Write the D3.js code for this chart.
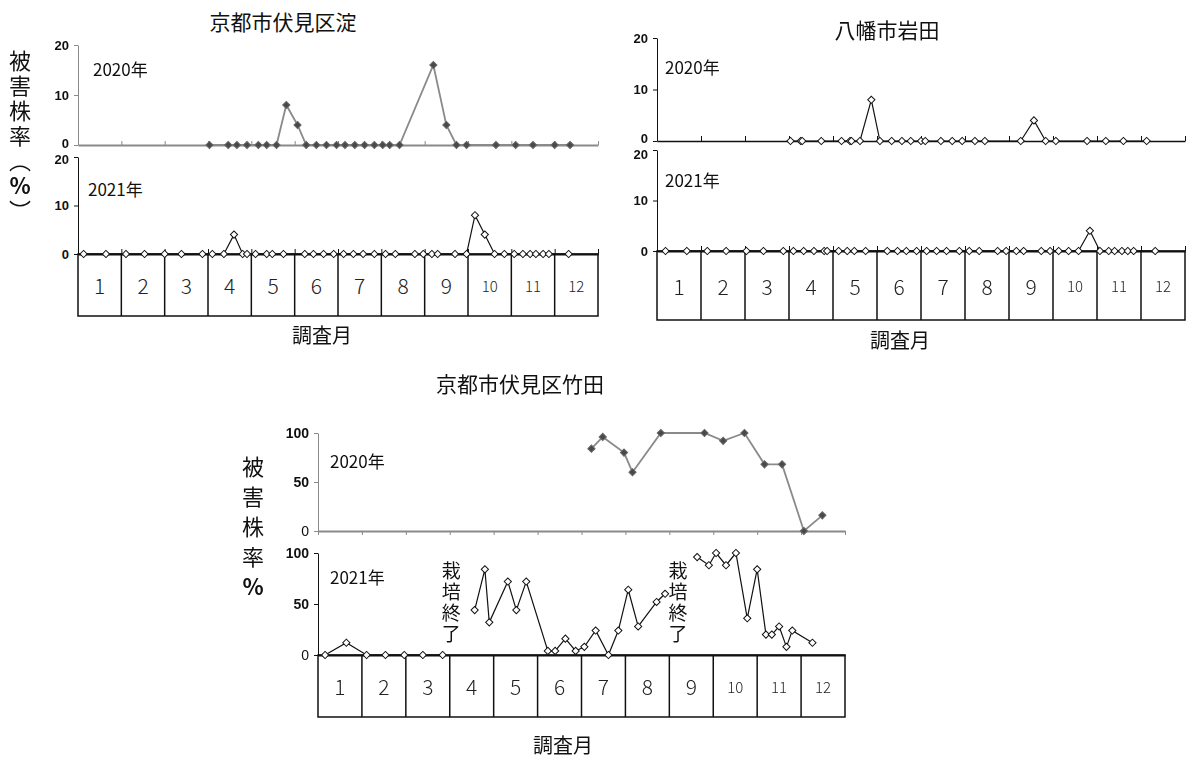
<!DOCTYPE html>
<html>
<head>
<meta charset="utf-8">
<script src="https://cdn.jsdelivr.net/npm/d3@7"></script>
<style>
  body { margin: 0; background: #fff; }
  svg { display: block; }
  .vtext { writing-mode: vertical-rl; text-orientation: upright; }
</style>
</head>
<body>
<svg id="chart" width="1187" height="760"></svg>
<script>
// ---- data ----------------------------------------------------------------
// Survey months shown in the boxes under each chart
const monthNumbers = [1, 2, 3, 4, 5, 6, 7, 8, 9, 10, 11, 12];
const monthLabels = monthNumbers.map(String);

const yTicksSmall = [0, 10, 20];
const yTicksLarge = [0, 50, 100];

// Damaged-plant rate (%) by survey date "M/D"
// 京都市伏見区淀
const yodo2020 = [
  ["4/2", 0], ["4/15", 0], ["4/21", 0], ["4/28", 0], ["5/6", 0], ["5/12", 0],
  ["5/19", 0], ["5/26", 8], ["6/3", 4], ["6/9", 0], ["6/16", 0], ["6/23", 0],
  ["6/30", 0], ["7/6", 0], ["7/13", 0], ["7/20", 0], ["7/27", 0], ["8/2", 0],
  ["8/7", 0], ["8/14", 0], ["9/7", 16], ["9/16", 4], ["9/23", 0], ["9/30", 0],
  ["10/21", 0], ["11/4", 0], ["11/16", 0], ["12/1", 0], ["12/12", 0]
];
const yodo2021 = [
  ["1/5", 0], ["1/21", 0], ["2/4", 0], ["2/16", 0], ["3/1", 0], ["3/13", 0],
  ["3/28", 0], ["4/4", 0], ["4/12", 0], ["4/19", 4], ["4/25", 0], ["4/28", 0],
  ["5/4", 0], ["5/12", 0], ["5/16", 0], ["5/24", 0], ["6/8", 0], ["6/14", 0],
  ["6/21", 0], ["6/28", 0], ["7/5", 0], ["7/12", 0], ["7/19", 0], ["7/27", 0],
  ["8/4", 0], ["8/11", 0], ["8/25", 0], ["8/31", 0], ["9/6", 0], ["9/10", 0],
  ["9/22", 0], ["9/30", 0], ["10/6", 8], ["10/13", 4], ["10/20", 0], ["10/27", 0],
  ["11/3", 0], ["11/9", 0], ["11/14", 0], ["11/18", 0], ["11/23", 0], ["11/27", 0],
  ["12/11", 0]
];

// 八幡市岩田
const iwata2020 = [
  ["4/2", 0], ["4/9", 0], ["4/10", 0], ["4/23", 0], ["5/7", 0], ["5/13", 0],
  ["5/14", 0], ["5/20", 0], ["5/28", 8], ["6/3", 0], ["6/11", 0], ["6/18", 0],
  ["6/24", 0], ["7/1", 0], ["7/4", 0], ["7/15", 0], ["7/23", 0], ["7/30", 0],
  ["8/8", 0], ["8/15", 0], ["9/9", 0], ["9/18", 4], ["9/26", 0], ["10/3", 0],
  ["10/25", 0], ["11/7", 0], ["11/19", 0], ["12/5", 0]
];
const iwata2021 = [
  ["1/7", 0], ["1/22", 0], ["2/5", 0], ["2/17", 0], ["3/2", 0], ["3/14", 0],
  ["3/28", 0], ["4/4", 0], ["4/11", 0], ["4/18", 0], ["4/25", 0], ["4/27", 0],
  ["5/5", 0], ["5/11", 0], ["5/16", 0], ["5/24", 0], ["6/8", 0], ["6/15", 0],
  ["6/21", 0], ["6/28", 0], ["7/5", 0], ["7/12", 0], ["7/19", 0], ["7/28", 0],
  ["8/4", 0], ["8/11", 0], ["8/24", 0], ["8/30", 0], ["9/6", 0], ["9/11", 0],
  ["9/23", 0], ["9/29", 0], ["10/5", 0], ["10/12", 0], ["10/19", 0], ["10/27", 4],
  ["11/3", 0], ["11/9", 0], ["11/13", 0], ["11/18", 0], ["11/22", 0], ["11/26", 0],
  ["12/11", 0]
];

// 京都市伏見区竹田 (null = no survey, cultivation ended)
const takeda2020 = [
  ["7/8", 84], ["7/16", 96], ["7/31", 80], ["8/6", 60], ["8/26", 100], ["9/25", 100],
  ["10/8", 92], ["10/23", 100], ["11/6", 68], ["11/18", 68], ["12/3", 0], ["12/16", 16]
];
const takeda2021 = [
  ["1/6", 0], ["1/21", 12], ["2/4", 0], ["2/16", 0], ["2/28", 0], ["3/13", 0], ["3/27", 0],
  null,
  ["4/18", 44], ["4/25", 84], ["4/28", 32], ["5/11", 72], ["5/17", 44], ["5/24", 72],
  ["6/8", 4], ["6/13", 4], ["6/20", 16], ["6/27", 4], ["7/3", 8], ["7/11", 24],
  ["7/20", 0], ["7/27", 24], ["8/3", 64], ["8/10", 28], ["8/23", 52], ["8/29", 60],
  null,
  ["9/20", 96], ["9/28", 88], ["10/3", 100], ["10/10", 88], ["10/17", 100], ["10/25", 36],
  ["11/1", 84], ["11/7", 20], ["11/11", 20], ["11/16", 28], ["11/21", 8], ["11/25", 24],
  ["12/9", 12]
];
const takedaNotes = [["4/2", "栽培終了"], ["9/7", "栽培終了"]];

// ---- drawing ---------------------------------------------------------------
const svg = d3.select("#chart");
const JP = "'Noto Sans CJK JP','Noto Sans',sans-serif";
const NUM = "'Liberation Sans',Arial,sans-serif";

const defs = svg.append("defs");
defs.append("filter").attr("id", "soft")
  .attr("x", "-2%").attr("y", "-10%").attr("width", "104%").attr("height", "120%")
  .append("feGaussianBlur").attr("stdDeviation", 0.65);

// Fractional month position (0 = Jan 1, 12 = end of Dec)
function monthPos(md, year) {
  const [m, d] = md.split("/").map(Number);
  const days = new Date(year, m, 0).getDate();
  return (m - 1) + (d - 1) / days;
}

const diamond = r => d3.symbol(d3.symbolSquare, 2 * r * r)();

function drawSub(g, x, cfg) {
  const y = d3.scaleLinear().domain([0, cfg.yMax]).range([cfg.bottom, cfg.top]);
  const sg = g.append("g");
  if (cfg.soft) sg.attr("filter", "url(#soft)");

  // x axis line with month ticks
  const xAxis = (cfg.tickDir === "down" ? d3.axisBottom(x) : d3.axisTop(x))
    .tickValues(d3.range(0, 13)).tickFormat("").tickSize(cfg.tickLen).tickSizeOuter(0);
  const xa = sg.append("g").attr("transform", `translate(0,${cfg.bottom})`).call(xAxis);
  xa.select(".domain").attr("stroke", cfg.axisColor).attr("stroke-width", cfg.axisWidth);
  xa.selectAll(".tick line").attr("stroke", cfg.axisColor).attr("stroke-width", 1);

  // y axis; end labels are nudged apart where two charts are stacked
  const yAxis = d3.axisLeft(y).tickValues(cfg.ticks).tickSize(4).tickSizeOuter(0).tickPadding(5);
  const ya = sg.append("g").attr("transform", `translate(${x.range()[0]},0)`).call(yAxis);
  ya.select(".domain").attr("stroke", cfg.axisColor).attr("stroke-width", 1);
  ya.selectAll(".tick line").attr("stroke", cfg.axisColor);
  ya.selectAll(".tick text")
    .attr("font-family", NUM).attr("font-size", cfg.tickFont || 14).attr("fill", "#111")
    .attr("font-weight", d => (cfg.boldZero || d !== 0) ? "bold" : "normal")
    .attr("transform", d => d === 0 ? `translate(0,${cfg.zeroShift || 0})`
                          : d === cfg.yMax ? `translate(0,${cfg.topShift || 0})` : null);

  // year label
  sg.append("text")
    .attr("x", x.range()[0] + cfg.label[0]).attr("y", cfg.top + cfg.label[1])
    .attr("font-family", JP).attr("font-size", 17).attr("fill", "#111")
    .text(cfg.year + "年");

  // series
  const pts = cfg.data.map(d => d ? { x: x(monthPos(d[0], cfg.year)), y: y(d[1]) } : null);
  const line = d3.line().defined(d => d).x(d => d.x).y(d => d.y);
  sg.append("path").datum(pts).attr("d", line)
    .attr("fill", "none").attr("stroke", cfg.lineColor).attr("stroke-width", cfg.lineWidth);
  sg.append("g").selectAll("path").data(pts.filter(Boolean)).join("path")
    .attr("d", diamond(cfg.r))
    .attr("transform", d => `translate(${d.x},${d.y}) rotate(45)`)
    .attr("fill", cfg.markFill).attr("stroke", cfg.markStroke).attr("stroke-width", 1);
  return y;
}

function drawBoxes(g, x, top, bottom, bigSize, smallSize) {
  const bg = g.append("g");
  bg.append("rect")
    .attr("x", x(0)).attr("y", top).attr("width", x(12) - x(0)).attr("height", bottom - top)
    .attr("fill", "none").attr("stroke", "#111").attr("stroke-width", 1.5);
  bg.selectAll("line").data(d3.range(1, 12)).join("line")
    .attr("x1", d => x(d)).attr("x2", d => x(d)).attr("y1", top).attr("y2", bottom)
    .attr("stroke", "#111").attr("stroke-width", 1.5);
  bg.selectAll("text").data(monthLabels).join("text")
    .attr("x", (d, i) => x(i + 0.5)).attr("y", (top + bottom) / 2)
    .attr("text-anchor", "middle").attr("dominant-baseline", "central")
    .attr("font-family", JP).attr("font-weight", 300).attr("fill", "#222")
    .attr("font-size", d => d.length > 1 ? smallSize : bigSize)
    .text(d => d);
}

// Vertical (top-to-bottom) text; parts = [[string, weight], ...]
function vText(g, parts, xc, yTop, size, spacing) {
  const t = g.append("text").attr("class", "vtext")
    .attr("x", xc).attr("y", yTop)
    .attr("font-family", JP).attr("font-size", size).attr("fill", "#111")
    .style("letter-spacing", spacing + "px");
  parts.forEach(([s, w]) => t.append("tspan").attr("font-weight", w).text(s));
  return t;
}

const titleStyle = t => t.attr("font-family", JP).attr("font-size", 21)
  .attr("text-anchor", "middle").attr("fill", "#111");

const softStyle = {
  soft: true, axisColor: "#8a8a8a", axisWidth: 2.2, lineColor: "#8a8a8a", lineWidth: 1.8,
  markFill: "#4a4a4a", markStroke: "#666", r: 3.6
};
const crispStyle = {
  soft: false, axisColor: "#111", axisWidth: 2, lineColor: "#111", lineWidth: 1.2,
  markFill: "#fff", markStroke: "#111", r: 3.6
};

// ---- panel 1: 京都市伏見区淀 ----
{
  const g = svg.append("g");
  const x = d3.scaleLinear().domain([0, 12]).range([78, 598]);
  titleStyle(g.append("text").attr("x", 283).attr("y", 30).text("京都市伏見区淀"));
  drawBoxes(g, x, 254, 316, 21, 15);
  drawSub(g, x, Object.assign({}, softStyle, {
    year: 2020, data: yodo2020, top: 45, bottom: 145, yMax: 20, ticks: yTicksSmall,
    tickDir: "up", tickLen: 4, label: [15, 31], boldZero: true, tickFont: 13, zeroShift: -2
  }));
  drawSub(g, x, Object.assign({}, crispStyle, {
    year: 2021, data: yodo2021, top: 157, bottom: 254, yMax: 20, ticks: yTicksSmall,
    tickDir: "up", tickLen: 5, label: [10, 39], boldZero: true, tickFont: 13, topShift: 2
  }));
  vText(g, [["被害株率（", "normal"], ["%", "bold"], ["）", "normal"]], 20, 50, 22, 3);
  g.append("text").attr("x", 322).attr("y", 343).attr("text-anchor", "middle")
    .attr("font-family", JP).attr("font-size", 20).attr("fill", "#111").text("調査月");
}

// ---- panel 2: 八幡市岩田 ----
{
  const g = svg.append("g");
  const x = d3.scaleLinear().domain([0, 12]).range([657, 1185]);
  titleStyle(g.append("text").attr("x", 887).attr("y", 38).text("八幡市岩田"));
  drawBoxes(g, x, 251, 320, 21, 15);
  drawSub(g, x, Object.assign({}, crispStyle, {
    year: 2020, data: iwata2020, top: 38, bottom: 141, yMax: 20, ticks: yTicksSmall,
    tickDir: "up", tickLen: 5, label: [8, 36], boldZero: true, axisWidth: 1.3,
    tickFont: 13, zeroShift: -3
  }));
  drawSub(g, x, Object.assign({}, crispStyle, {
    year: 2021, data: iwata2021, top: 150, bottom: 251, yMax: 20, ticks: yTicksSmall,
    tickDir: "up", tickLen: 5, label: [8, 37], boldZero: true, tickFont: 13, topShift: 4
  }));
  g.append("text").attr("x", 900).attr("y", 348).attr("text-anchor", "middle")
    .attr("font-family", JP).attr("font-size", 20).attr("fill", "#111").text("調査月");
}

// ---- panel 3: 京都市伏見区竹田 ----
{
  const g = svg.append("g");
  const x = d3.scaleLinear().domain([0, 12]).range([318, 845]);
  titleStyle(g.append("text").attr("x", 520).attr("y", 392).text("京都市伏見区竹田"));
  drawBoxes(g, x, 655, 717, 21, 15);
  drawSub(g, x, Object.assign({}, softStyle, {
    year: 2020, data: takeda2020, top: 433, bottom: 531, yMax: 100, ticks: yTicksLarge,
    tickDir: "down", tickLen: 4, label: [12, 35], boldZero: false
  }));
  const y21 = drawSub(g, x, Object.assign({}, crispStyle, {
    year: 2021, data: takeda2021, top: 553, bottom: 655, yMax: 100, ticks: yTicksLarge,
    tickDir: "down", tickLen: 0, label: [12, 31], boldZero: false
  }));
  takedaNotes.forEach(([md, text]) => {
    vText(g, [[text, "normal"]], x(monthPos(md, 2021)), y21(92), 19, 2);
  });
  vText(g, [["被害株率", "normal"], ["%", "bold"]], 253, 456, 22, 8);
  g.append("text").attr("x", 563).attr("y", 753).attr("text-anchor", "middle")
    .attr("font-family", JP).attr("font-size", 20).attr("fill", "#111").text("調査月");
}
</script>
</body>
</html>
